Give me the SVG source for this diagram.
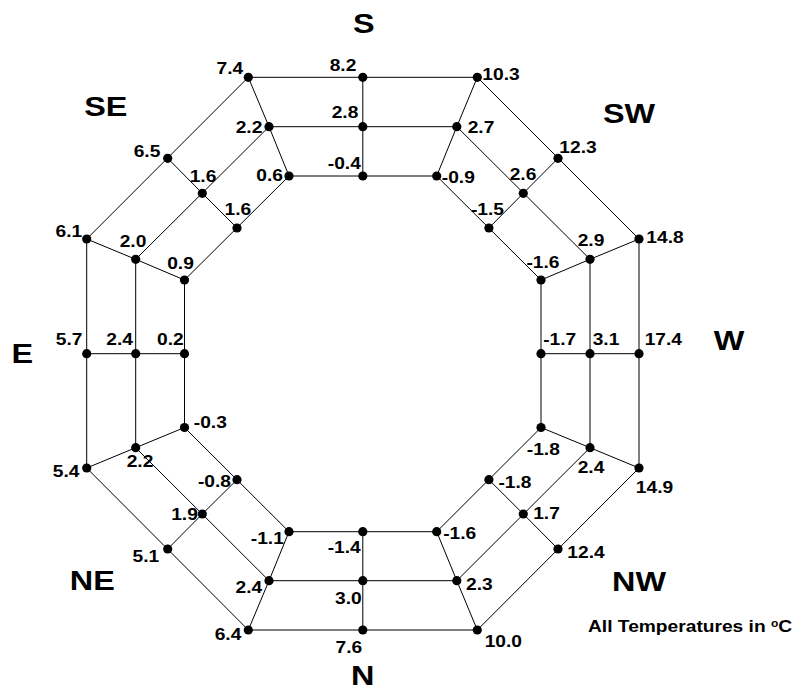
<svg xmlns="http://www.w3.org/2000/svg" width="797" height="689" viewBox="0 0 797 689">
<style>
.ln{stroke:#000;stroke-width:1;fill:none}
.dot{fill:#000}
.v{font-family:"Liberation Sans",Arial,sans-serif;font-weight:bold;font-size:16px;text-anchor:middle;fill:#000}
.dir{font-family:"Liberation Sans",Arial,sans-serif;font-weight:bold;font-size:27px;text-anchor:middle;fill:#000}
.note{font-family:"Liberation Sans",Arial,sans-serif;font-weight:bold;font-size:16px;fill:#000}
</style>
<rect width="797" height="689" fill="#fff"/>
<g id="connectors">
<polygon class="ln" points="248.3,77.3 477.3,77.3 639,239 639,468 477.3,630 248.3,630 86.7,468 86.7,239"/>
<polygon class="ln" points="269,126.7 456.8,126.7 590,259.3 590,447.7 456.8,580.7 269,580.7 135.7,447.7 135.7,259.3"/>
<polygon class="ln" points="289,176 436.7,176 541,280 541,427.5 436.7,531.7 289,531.7 184.5,427.5 184.5,280"/>
<polyline class="ln" points="248.3,77.3 269,126.7 289,176"/>
<polyline class="ln" points="362.8,77.3 362.8,126.7 362.8,176"/>
<polyline class="ln" points="477.3,77.3 456.8,126.7 436.7,176"/>
<polyline class="ln" points="558,158.3 523.3,193.3 488.9,228"/>
<polyline class="ln" points="639,239 590,259.3 541,280"/>
<polyline class="ln" points="639,353.7 590,353.7 541,353.7"/>
<polyline class="ln" points="639,468 590,447.7 541,427.5"/>
<polyline class="ln" points="558,549 523.3,514 488.9,479.7"/>
<polyline class="ln" points="477.3,630 456.8,580.7 436.7,531.7"/>
<polyline class="ln" points="362.8,630 362.8,580.7 362.8,531.7"/>
<polyline class="ln" points="248.3,630 269,580.7 289,531.7"/>
<polyline class="ln" points="167.7,549 202.3,514 237,479.7"/>
<polyline class="ln" points="86.7,468 135.7,447.7 184.5,427.5"/>
<polyline class="ln" points="86.7,353.7 135.7,353.7 184.5,353.7"/>
<polyline class="ln" points="86.7,239 135.7,259.3 184.5,280"/>
<polyline class="ln" points="167.7,158.3 202.3,193.3 237,228"/>
</g>
<!-- outer ring -->
<g id="n-o1"><circle class="dot" cx="248.3" cy="77.3" r="4.6"/><text class="v" transform="translate(229.8,74) scale(1.2,1)">7.4</text></g>
<g id="n-o2"><circle class="dot" cx="362.8" cy="77.3" r="4.6"/><text class="v" transform="translate(343,71) scale(1.2,1)">8.2</text></g>
<g id="n-o3"><circle class="dot" cx="477.3" cy="77.3" r="4.6"/><text class="v" transform="translate(501,80) scale(1.2,1)">10.3</text></g>
<g id="n-o4"><circle class="dot" cx="558" cy="158.3" r="4.6"/><text class="v" transform="translate(578,153) scale(1.2,1)">12.3</text></g>
<g id="n-o5"><circle class="dot" cx="639" cy="239" r="4.6"/><text class="v" transform="translate(665,243) scale(1.2,1)">14.8</text></g>
<g id="n-o6"><circle class="dot" cx="639" cy="353.7" r="4.6"/><text class="v" transform="translate(663.3,345) scale(1.2,1)">17.4</text></g>
<g id="n-o7"><circle class="dot" cx="639" cy="468" r="4.6"/><text class="v" transform="translate(654.5,493) scale(1.2,1)">14.9</text></g>
<g id="n-o8"><circle class="dot" cx="558" cy="549" r="4.6"/><text class="v" transform="translate(586,558) scale(1.2,1)">12.4</text></g>
<g id="n-o9"><circle class="dot" cx="477.3" cy="630" r="4.6"/><text class="v" transform="translate(503.3,646.7) scale(1.2,1)">10.0</text></g>
<g id="n-o10"><circle class="dot" cx="362.8" cy="630" r="4.6"/><text class="v" transform="translate(348.8,653) scale(1.2,1)">7.6</text></g>
<g id="n-o11"><circle class="dot" cx="248.3" cy="630" r="4.6"/><text class="v" transform="translate(228,640) scale(1.2,1)">6.4</text></g>
<g id="n-o12"><circle class="dot" cx="167.7" cy="549" r="4.6"/><text class="v" transform="translate(145.8,561.7) scale(1.2,1)">5.1</text></g>
<g id="n-o13"><circle class="dot" cx="86.7" cy="468" r="4.6"/><text class="v" transform="translate(66.2,476.7) scale(1.2,1)">5.4</text></g>
<g id="n-o14"><circle class="dot" cx="86.7" cy="353.7" r="4.6"/><text class="v" transform="translate(69.2,345) scale(1.2,1)">5.7</text></g>
<g id="n-o15"><circle class="dot" cx="86.7" cy="239" r="4.6"/><text class="v" transform="translate(68.8,237) scale(1.2,1)">6.1</text></g>
<g id="n-o16"><circle class="dot" cx="167.7" cy="158.3" r="4.6"/><text class="v" transform="translate(147,157) scale(1.2,1)">6.5</text></g>
<!-- middle ring -->
<g id="n-m1"><circle class="dot" cx="269" cy="126.7" r="4.6"/><text class="v" transform="translate(249,133) scale(1.2,1)">2.2</text></g>
<g id="n-m2"><circle class="dot" cx="362.8" cy="126.7" r="4.6"/><text class="v" transform="translate(345,118) scale(1.2,1)">2.8</text></g>
<g id="n-m3"><circle class="dot" cx="456.8" cy="126.7" r="4.6"/><text class="v" transform="translate(481,132.5) scale(1.2,1)">2.7</text></g>
<g id="n-m4"><circle class="dot" cx="523.3" cy="193.3" r="4.6"/><text class="v" transform="translate(523,180) scale(1.2,1)">2.6</text></g>
<g id="n-m5"><circle class="dot" cx="590" cy="259.3" r="4.6"/><text class="v" transform="translate(591,246) scale(1.2,1)">2.9</text></g>
<g id="n-m6"><circle class="dot" cx="590" cy="353.7" r="4.6"/><text class="v" transform="translate(606,345) scale(1.2,1)">3.1</text></g>
<g id="n-m7"><circle class="dot" cx="590" cy="447.7" r="4.6"/><text class="v" transform="translate(591,473) scale(1.2,1)">2.4</text></g>
<g id="n-m8"><circle class="dot" cx="523.3" cy="514" r="4.6"/><text class="v" transform="translate(546.5,519) scale(1.2,1)">1.7</text></g>
<g id="n-m9"><circle class="dot" cx="456.8" cy="580.7" r="4.6"/><text class="v" transform="translate(479.3,589.5) scale(1.2,1)">2.3</text></g>
<g id="n-m10"><circle class="dot" cx="362.8" cy="580.7" r="4.6"/><text class="v" transform="translate(348.3,604) scale(1.2,1)">3.0</text></g>
<g id="n-m11"><circle class="dot" cx="269" cy="580.7" r="4.6"/><text class="v" transform="translate(248.9,593) scale(1.2,1)">2.4</text></g>
<g id="n-m12"><circle class="dot" cx="202.3" cy="514" r="4.6"/><text class="v" transform="translate(184.5,520) scale(1.2,1)">1.9</text></g>
<g id="n-m13"><circle class="dot" cx="135.7" cy="447.7" r="4.6"/><text class="v" transform="translate(140,466.7) scale(1.2,1)">2.2</text></g>
<g id="n-m14"><circle class="dot" cx="135.7" cy="353.7" r="4.6"/><text class="v" transform="translate(119.7,345) scale(1.2,1)">2.4</text></g>
<g id="n-m15"><circle class="dot" cx="135.7" cy="259.3" r="4.6"/><text class="v" transform="translate(133,246.7) scale(1.2,1)">2.0</text></g>
<g id="n-m16"><circle class="dot" cx="202.3" cy="193.3" r="4.6"/><text class="v" transform="translate(203,182) scale(1.2,1)">1.6</text></g>
<!-- inner ring -->
<g id="n-i1"><circle class="dot" cx="289" cy="176" r="4.6"/><text class="v" transform="translate(269.7,181) scale(1.2,1)">0.6</text></g>
<g id="n-i2"><circle class="dot" cx="362.8" cy="176" r="4.6"/><text class="v" transform="translate(344.3,169) scale(1.2,1)">-0.4</text></g>
<g id="n-i3"><circle class="dot" cx="436.7" cy="176" r="4.6"/><text class="v" transform="translate(458.3,183) scale(1.2,1)">-0.9</text></g>
<g id="n-i4"><circle class="dot" cx="488.9" cy="228" r="4.6"/><text class="v" transform="translate(487.5,215) scale(1.2,1)">-1.5</text></g>
<g id="n-i5"><circle class="dot" cx="541" cy="280" r="4.6"/><text class="v" transform="translate(543,268) scale(1.2,1)">-1.6</text></g>
<g id="n-i6"><circle class="dot" cx="541" cy="353.7" r="4.6"/><text class="v" transform="translate(559.7,345) scale(1.2,1)">-1.7</text></g>
<g id="n-i7"><circle class="dot" cx="541" cy="427.5" r="4.6"/><text class="v" transform="translate(543.3,455) scale(1.2,1)">-1.8</text></g>
<g id="n-i8"><circle class="dot" cx="488.9" cy="479.7" r="4.6"/><text class="v" transform="translate(515,488.3) scale(1.2,1)">-1.8</text></g>
<g id="n-i9"><circle class="dot" cx="436.7" cy="531.7" r="4.6"/><text class="v" transform="translate(459.7,539) scale(1.2,1)">-1.6</text></g>
<g id="n-i10"><circle class="dot" cx="362.8" cy="531.7" r="4.6"/><text class="v" transform="translate(344.2,553) scale(1.2,1)">-1.4</text></g>
<g id="n-i11"><circle class="dot" cx="289" cy="531.7" r="4.6"/><text class="v" transform="translate(267.3,543.5) scale(1.2,1)">-1.1</text></g>
<g id="n-i12"><circle class="dot" cx="237" cy="479.7" r="4.6"/><text class="v" transform="translate(214.5,486.7) scale(1.2,1)">-0.8</text></g>
<g id="n-i13"><circle class="dot" cx="184.5" cy="427.5" r="4.6"/><text class="v" transform="translate(210.3,428) scale(1.2,1)">-0.3</text></g>
<g id="n-i14"><circle class="dot" cx="184.5" cy="353.7" r="4.6"/><text class="v" transform="translate(170.3,345) scale(1.2,1)">0.2</text></g>
<g id="n-i15"><circle class="dot" cx="184.5" cy="280" r="4.6"/><text class="v" transform="translate(180.5,269) scale(1.2,1)">0.9</text></g>
<g id="n-i16"><circle class="dot" cx="237" cy="228" r="4.6"/><text class="v" transform="translate(237.8,215) scale(1.2,1)">1.6</text></g>
<!-- compass labels -->
<g id="compass">
<text class="dir" transform="translate(363.7,33) scale(1.2,1)">S</text>
<text class="dir" transform="translate(105.8,116) scale(1.2,1)">SE</text>
<text class="dir" transform="translate(629,123) scale(1.2,1)">SW</text>
<text class="dir" transform="translate(22.2,363) scale(1.2,1)">E</text>
<text class="dir" transform="translate(729,350) scale(1.2,1)">W</text>
<text class="dir" transform="translate(92.3,590) scale(1.2,1)">NE</text>
<text class="dir" transform="translate(639,591) scale(1.2,1)">NW</text>
<text class="dir" transform="translate(362.8,685) scale(1.2,1)">N</text>
</g>
<text class="note" transform="translate(588,632) scale(1.2,1)">All Temperatures in <tspan font-size="10" dy="-5">o</tspan><tspan dy="5">C</tspan></text>
</svg>
